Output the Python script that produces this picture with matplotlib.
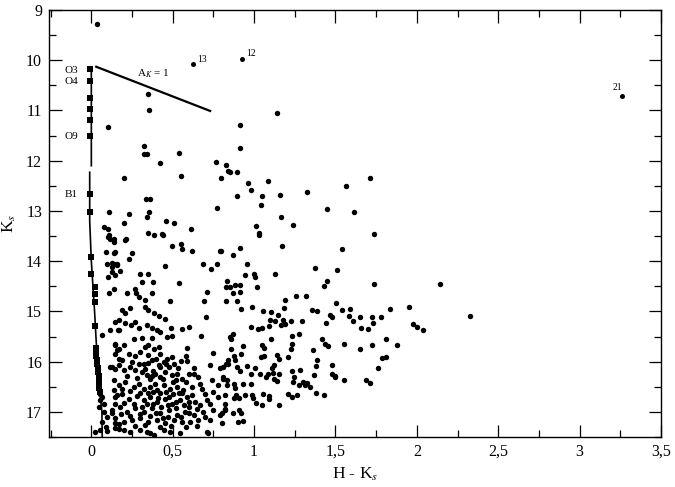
import numpy as np
import matplotlib
matplotlib.use("Agg")
import matplotlib.pyplot as plt
from matplotlib.ticker import MultipleLocator

plt.rcParams['font.family'] = ['Liberation Serif', 'DejaVu Serif']
plt.rcParams['mathtext.fontset'] = 'stix'

# ---- data (H-Ks, Ks) ----
bright_stars = [
    (0.035, 9.27), (0.351, 10.68), (0.356, 10.99), (0.104, 11.33), (0.321, 11.70),
    (0.325, 11.87), (0.344, 11.86), (0.423, 12.05), (0.540, 11.85), (0.552, 12.30),
    (0.202, 12.35), (0.764, 12.03), (0.798, 12.34), (0.830, 12.08), (0.840, 12.21),
    (0.335, 12.76), (0.360, 12.77), (0.773, 12.94), (0.107, 13.02), (0.233, 13.06),
    (0.341, 13.13), (0.354, 13.03), (0.198, 13.25), (0.080, 13.32), (0.100, 13.35),
    (0.456, 13.20), (0.507, 13.24), (0.613, 13.36), (0.351, 13.44), (0.382, 13.47),
    (0.440, 13.47), (0.104, 13.51), (0.137, 13.56), (0.210, 13.56),
    (1.143, 11.06), (0.912, 11.28), (0.914, 11.75), (0.849, 12.22), (0.896, 12.22),
    (0.963, 12.45), (1.084, 12.40), (0.982, 12.59), (0.897, 12.71), (1.049, 12.71),
    (1.157, 12.69), (1.045, 12.88), (1.327, 12.62), (1.564, 12.50), (1.714, 12.35),
    (1.450, 12.97), (1.615, 13.02), (1.164, 13.13), (1.241, 13.28), (1.012, 13.30),
    (1.033, 13.43), (1.029, 13.48), (1.736, 13.45),
    (2.141, 14.46), (2.325, 15.10),
]

red_stars = [
    (1.172, 13.70), (0.914, 13.73), (0.873, 13.87), (0.796, 13.80), (0.955, 14.05),
    (0.945, 14.28), (0.998, 14.25), (1.008, 14.31), (1.131, 14.26), (1.372, 14.14),
    (1.511, 14.17), (1.446, 14.39), (1.431, 14.50), (0.836, 14.40), (0.828, 14.52),
    (0.849, 14.51), (0.883, 14.48), (0.912, 14.48), (0.916, 14.62), (0.869, 14.64),
    (1.016, 14.51), (0.828, 14.79), (0.894, 14.79), (1.190, 14.78), (1.258, 14.69),
    (1.319, 14.69), (0.918, 14.96), (0.990, 14.91), (1.057, 14.99), (1.102, 15.02),
    (1.145, 15.08), (1.186, 14.94), (1.354, 14.98), (1.384, 15.00), (1.466, 15.08),
    (1.476, 15.12), (1.501, 14.83), (1.098, 15.18), (1.131, 15.19), (1.180, 15.18),
    (1.225, 15.19), (1.292, 15.19), (1.442, 15.23), (0.982, 15.32), (1.026, 15.35),
    (1.047, 15.34), (1.092, 15.30), (1.166, 15.27), (1.192, 15.26), (1.231, 15.48),
    (1.276, 15.44), (0.849, 15.51), (0.869, 15.44), (0.859, 15.54), (0.934, 15.68),
    (1.047, 15.67), (1.063, 15.72), (1.102, 15.54), (1.231, 15.64), (1.225, 15.74),
    (1.360, 15.76), (1.415, 15.54), (1.436, 15.65), (1.456, 15.69), (0.859, 15.74),
    (0.879, 15.89), (0.883, 15.97), (0.918, 15.84), (0.838, 15.97), (0.828, 16.04),
    (0.808, 16.11), (1.043, 15.91), (1.063, 15.89), (1.143, 15.87), (1.155, 15.94),
    (1.125, 16.07), (1.108, 16.12), (1.210, 15.91), (1.384, 15.97), (1.380, 16.09),
    (1.476, 16.07), (0.894, 16.11), (0.914, 16.19), (0.955, 16.09), (0.982, 16.25),
    (1.006, 16.12), (1.037, 16.24), (1.074, 16.30), (1.088, 16.25), (1.118, 16.22),
    (1.123, 16.34), (1.139, 16.38), (1.155, 16.25), (1.231, 16.19), (1.245, 16.30),
    (1.282, 16.16), (1.236, 16.40), (1.302, 16.40), (1.327, 16.42), (1.344, 16.50),
    (1.313, 16.47), (1.278, 16.47), (1.370, 16.26), (1.476, 16.25), (1.497, 16.30),
    (1.382, 16.62), (1.431, 16.67), (0.808, 16.34), (0.832, 16.47), (0.877, 16.44),
    (0.883, 16.52), (0.832, 16.37), (0.934, 16.44), (0.980, 16.44), (0.890, 16.67),
    (0.910, 16.73), (0.879, 16.73), (0.945, 16.67), (0.986, 16.67), (0.996, 16.73),
    (1.012, 16.82), (1.047, 16.87), (1.057, 16.64), (1.094, 16.69), (1.092, 16.75),
    (1.155, 16.87), (1.210, 16.64), (1.231, 16.70), (1.266, 16.66), (0.822, 16.94),
    (0.802, 17.03), (0.822, 16.97), (0.873, 17.03), (0.910, 16.97), (0.918, 17.02),
    (0.802, 17.23), (0.904, 17.20), (0.934, 17.18),
    (1.540, 13.75), (1.738, 14.46), (1.540, 14.98), (1.589, 14.96), (1.585, 15.09),
    (1.609, 15.19), (1.652, 15.12), (1.726, 15.11), (1.777, 15.11), (1.732, 15.24),
    (1.658, 15.33), (1.701, 15.36), (1.834, 14.96), (1.953, 14.92), (1.978, 15.26),
    (2.002, 15.31), (2.039, 15.38), (1.808, 15.54), (1.879, 15.67), (1.550, 15.64),
    (1.722, 15.66), (1.652, 15.74), (1.783, 15.93), (1.813, 15.91), (1.759, 16.12),
    (1.500, 16.29), (1.550, 16.36), (1.687, 16.36), (1.712, 16.42),
]

faint_stars = [
    (0.434, 13.46), (0.137, 13.62), (0.209, 13.58), (0.495, 13.69), (0.550, 13.65),
    (0.556, 13.75), (0.618, 13.79), (0.791, 13.79), (0.141, 13.83), (0.250, 13.83),
    (0.229, 13.95), (0.137, 14.05), (0.157, 14.08), (0.127, 14.11), (0.450, 14.09),
    (0.689, 14.05), (0.734, 14.16), (0.771, 14.05), (0.178, 14.20), (0.301, 14.25),
    (0.351, 14.26), (0.127, 14.21), (0.311, 14.41), (0.376, 14.41), (0.137, 14.56),
    (0.219, 14.64), (0.270, 14.56), (0.276, 14.64), (0.540, 14.44), (0.709, 14.61),
    (0.290, 14.71), (0.331, 14.78), (0.372, 14.64), (0.485, 14.79), (0.695, 14.79),
    (0.188, 14.98), (0.209, 15.03), (0.239, 14.94), (0.331, 14.91), (0.351, 14.98),
    (0.388, 15.04), (0.413, 15.10), (0.450, 15.16), (0.703, 15.12), (0.147, 15.21),
    (0.168, 15.37), (0.209, 15.24), (0.243, 15.27), (0.270, 15.21), (0.290, 15.34),
    (0.341, 15.27), (0.372, 15.34), (0.403, 15.37), (0.423, 15.41), (0.489, 15.34),
    (0.556, 15.36), (0.597, 15.31), (0.673, 15.49), (0.260, 15.54), (0.311, 15.52),
    (0.372, 15.52), (0.464, 15.51), (0.495, 15.49), (0.147, 15.67), (0.168, 15.74),
    (0.198, 15.67), (0.331, 15.71), (0.351, 15.67), (0.382, 15.74), (0.413, 15.71),
    (0.147, 15.85), (0.229, 15.85), (0.270, 15.89), (0.301, 15.81), (0.351, 15.87),
    (0.423, 15.84), (0.464, 15.94), (0.495, 15.91), (0.583, 15.89), (0.590, 15.72),
    (0.750, 15.83), (0.321, 16.04), (0.372, 15.97), (0.413, 16.07), (0.444, 16.01),
    (0.475, 16.11), (0.505, 16.04), (0.587, 15.99), (0.628, 16.12), (0.730, 16.07),
    (0.791, 16.12), (0.842, 16.04), (0.127, 16.11), (0.168, 16.07), (0.198, 16.17),
    (0.239, 16.11), (0.270, 16.17), (0.311, 16.20), (0.341, 16.27), (0.393, 16.24),
    (0.423, 16.30), (0.454, 16.20), (0.495, 16.27), (0.526, 16.24), (0.556, 16.34),
    (0.597, 16.24), (0.669, 16.44), (0.658, 16.30), (0.740, 16.37), (0.812, 16.30),
    (0.781, 16.47), (0.137, 16.37), (0.168, 16.47), (0.209, 16.40), (0.260, 16.50),
    (0.290, 16.44), (0.321, 16.54), (0.362, 16.50), (0.403, 16.57), (0.444, 16.47),
    (0.485, 16.55), (0.526, 16.50), (0.566, 16.57), (0.618, 16.50), (0.699, 16.64),
    (0.750, 16.60), (0.822, 16.67), (0.147, 16.70), (0.188, 16.64), (0.229, 16.74),
    (0.280, 16.69), (0.321, 16.77), (0.362, 16.70), (0.403, 16.80), (0.454, 16.74),
    (0.495, 16.84), (0.546, 16.76), (0.587, 16.70), (0.638, 16.80), (0.669, 16.87),
    (0.730, 16.84), (0.781, 16.70), (0.822, 16.84), (0.127, 16.97), (0.178, 16.90),
    (0.219, 17.00), (0.270, 16.93), (0.321, 17.00), (0.372, 16.93), (0.423, 17.03),
    (0.475, 16.97), (0.526, 17.07), (0.577, 17.00), (0.628, 17.07), (0.689, 17.00),
    (0.750, 16.97), (0.791, 17.07), (0.147, 17.13), (0.198, 17.20), (0.250, 17.17),
    (0.301, 17.13), (0.351, 17.20), (0.403, 17.17), (0.454, 17.23), (0.505, 17.17),
    (0.556, 17.20), (0.607, 17.20), (0.658, 17.17), (0.730, 17.17), (0.147, 17.33),
    (0.198, 17.37), (0.239, 17.40), (0.301, 17.37), (0.341, 17.40), (0.382, 17.47),
    (0.444, 17.37), (0.546, 17.43), (0.709, 17.40), (0.362, 17.43), (0.485, 17.40),
    (0.716, 17.42),
    (0.106, 13.48), (0.117, 13.55), (0.092, 13.81), (0.147, 13.81), (0.096, 14.05),
    (0.127, 14.03), (0.157, 14.05), (0.100, 14.31), (0.147, 14.28), (0.106, 14.64),
    (0.066, 15.47), (0.112, 15.37), (0.168, 15.18), (0.161, 15.37), (0.147, 15.64),
    (0.157, 15.77), (0.117, 16.11), (0.147, 16.14), (0.168, 15.94), (0.055, 16.64),
    (0.066, 16.70), (0.055, 16.77), (0.075, 16.84), (0.137, 16.57), (0.157, 16.67),
    (0.147, 16.84), (0.045, 16.90), (0.075, 17.00), (0.096, 17.10), (0.066, 17.20),
    (0.092, 17.30), (0.025, 17.40), (0.055, 17.37), (0.096, 17.38), (0.127, 17.03),
    (0.147, 17.23), (0.168, 17.35),
]

# the crowded core, where the dots merge into one blob
core_stars = [
    (0.330, 16.15), (0.360, 16.35), (0.390, 16.45), (0.420, 16.62), (0.460, 16.60),
    (0.350, 16.62), (0.380, 16.85), (0.430, 16.90), (0.470, 16.87), (0.500, 16.65),
    (0.310, 16.90), (0.360, 17.08), (0.440, 17.12), (0.520, 16.92), (0.560, 16.62),
    (0.600, 16.80), (0.600, 16.90), (0.500, 16.40), (0.420, 16.10), (0.380, 16.18),
    (0.190, 15.97), (0.250, 16.00), (0.290, 16.05), (0.350, 16.03), (0.400, 15.95),
    (0.460, 16.05), (0.530, 16.12), (0.550, 15.98), (0.220, 16.28), (0.280, 16.32),
    (0.370, 16.28), (0.440, 16.35), (0.520, 16.37), (0.580, 16.40), (0.630, 16.25),
    (0.190, 16.55), (0.240, 16.58), (0.300, 16.62), (0.380, 16.60), (0.480, 16.70),
    (0.540, 16.62), (0.620, 16.66), (0.680, 16.55), (0.200, 16.82), (0.260, 16.85),
    (0.340, 16.85), (0.410, 16.72), (0.520, 16.80), (0.570, 16.87), (0.650, 16.95),
    (0.710, 16.76), (0.180, 17.05), (0.240, 17.08), (0.300, 17.05), (0.400, 17.02),
    (0.470, 17.10), (0.550, 17.10), (0.600, 17.03), (0.700, 17.10), (0.170, 17.25),
    (0.270, 17.28), (0.330, 17.27), (0.420, 17.30), (0.490, 17.28), (0.580, 17.30),
    (0.650, 17.28),
]

# ZAMS (square markers) and spectral type labels
zams_hk = [-0.01, -0.01, -0.01, -0.01, -0.01, -0.01, -0.01, -0.01, 0.0, 0.0, 0.02, 0.02,
           0.02, 0.02, 0.03, 0.03, 0.03, 0.035, 0.035, 0.04, 0.04, 0.045, 0.045, 0.05,
           0.05, 0.055]
zams_ks = [10.18, 10.41, 10.75, 10.98, 11.19, 11.50, 12.67, 13.02, 13.92, 14.26, 14.52,
           14.66, 14.82, 15.30, 15.72, 15.80, 15.88, 15.96, 16.04, 16.12, 16.20, 16.28,
           16.36, 16.44, 16.52, 16.60]
zams_line_hk = [0.0, 0.0, np.nan, -0.01, -0.01, 0.0, 0.02, 0.03, 0.045, 0.055, 0.065, 0.067]
zams_line_ks = [10.13, 12.10, np.nan, 12.23, 13.20, 14.0, 15.0, 15.6, 16.3, 16.7, 17.0, 17.5]
sptype_labels = ["O3", "O4", "O9", "B1"]
sptype_ks = [10.20, 10.43, 11.51, 12.67]

# reddening vector A_K = 1
vec_hk = [0.03, 0.73]
vec_ks = [10.13, 11.01]

# numbered stars
num_labels = ["13", "12", "21"]
num_hk = [0.626, 0.928, 3.258]
num_ks = [10.08, 9.98, 10.72]

xticks = [0, 0.5, 1, 1.5, 2, 2.5, 3, 3.5]
xtick_labels = ["0", "0,5", "1", "1,5", "2", "2,5", "3", "3,5"]
yticks = [9, 10, 11, 12, 13, 14, 15, 16, 17]

# ---- plot ----
fig = plt.figure(figsize=(6.75, 4.87), dpi=100)
ax = fig.add_axes([0.0726, 0.1027, 0.9067, 0.8768])

for group in (bright_stars, red_stars, faint_stars, core_stars):
    g = np.array(group)
    ax.plot(g[:, 0], g[:, 1], 'o', color='black', ms=3.9, mew=0)

ax.plot(num_hk, num_ks, 'o', color='black', ms=3.6, mew=0)
ax.plot(zams_line_hk, zams_line_ks, '-', color='black', lw=1.2)
ax.plot(zams_hk, zams_ks, 's', color='black', ms=4.3, mew=0)
ax.plot(vec_hk, vec_ks, '-', color='black', lw=1.6)

for lab, ks in zip(sptype_labels, sptype_ks):
    ax.text(-0.125, ks, lab, fontsize=8, ha='center', va='center')
ax.text(0.28, 10.26, "A$_K$ = 1", fontsize=8, ha='left', va='center')
ax.text(0.65, 9.98, "13", fontsize=7, ha='left', va='center')
ax.text(0.953, 9.86, "12", fontsize=7, ha='left', va='center')
ax.text(3.23, 10.55, "21", fontsize=7, ha='center', va='center')

ax.set_xlim(-0.26, 3.5)
ax.set_ylim(17.5, 9)
ax.set_xticks(xticks)
ax.set_xticklabels(xtick_labels)
ax.set_yticks(yticks)
ax.xaxis.set_minor_locator(MultipleLocator(0.25))
ax.yaxis.set_minor_locator(MultipleLocator(0.5))
ax.tick_params(which='both', direction='in', top=True, right=True, width=0.9,
               labelsize=11.5)
ax.tick_params(which='major', length=9, pad=5)
ax.tick_params(which='minor', length=5)
for s in ax.spines.values():
    s.set_linewidth(1.0)

ax.set_xlabel("H - K$_s$", fontsize=12.5, labelpad=4)
ax.set_ylabel("K$_s$", fontsize=12.5, labelpad=6)

fig.savefig("out.png", dpi=100)
